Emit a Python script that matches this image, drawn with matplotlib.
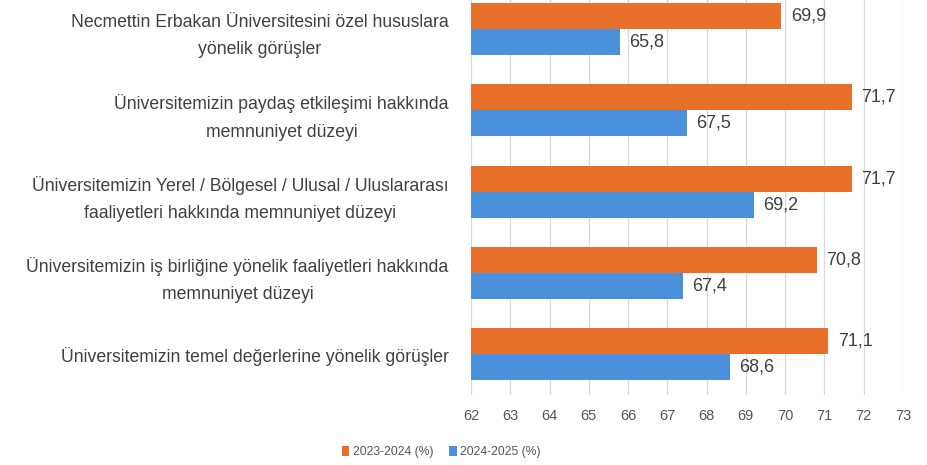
import numpy as np
import matplotlib
matplotlib.use("Agg")
import matplotlib.pyplot as plt

plt.rcParams['font.family'] = ['Liberation Sans', 'DejaVu Sans']

# Datos (de arriba hacia abajo en el gráfico)
categorias = [
    "Necmettin Erbakan Üniversitesini özel hususlara\nyönelik görüşler",
    "Üniversitemizin paydaş etkileşimi hakkında\nmemnuniyet düzeyi",
    "Üniversitemizin Yerel / Bölgesel / Ulusal / Uluslararası\nfaaliyetleri hakkında memnuniyet düzeyi",
    "Üniversitemizin iş birliğine yönelik faaliyetleri hakkında\nmemnuniyet düzeyi",
    "Üniversitemizin temel değerlerine yönelik görüşler",
]
serie_2023 = [69.9, 71.7, 71.7, 70.8, 71.1]
serie_2024 = [65.8, 67.5, 69.2, 67.4, 68.6]
etiquetas = ["2023-2024 (%)", "2024-2025 (%)"]

NARANJA = '#E9702B'
AZUL = '#4A90DA'
GRIS = '#404040'
X0 = 62

fig = plt.figure(figsize=(9.28, 4.65), dpi=100)
ax = fig.add_axes([0.5075, 0.1505, 0.4655, 0.8495])

n = len(categorias)
y = np.arange(n)[::-1]
h = 0.32

b1 = ax.barh(y + h / 2, np.array(serie_2023) - X0, h, left=X0, color=NARANJA, label=etiquetas[0], zorder=3)
b2 = ax.barh(y - h / 2, np.array(serie_2024) - X0, h, left=X0, color=AZUL, label=etiquetas[1], zorder=3)

for barras, valores in ((b1, serie_2023), (b2, serie_2024)):
    for b, v in zip(barras, valores):
        ax.text(v + 0.24, b.get_y() + b.get_height() / 2, f"{v:.1f}".replace('.', ','),
                va='center', ha='left', fontsize=13, color=GRIS)

ax.set_xlim(62, 73)
ax.set_ylim(-0.5, 4.357)
ax.set_xticks(range(62, 74))
ax.set_yticks(y)
ax.set_yticklabels(categorias, fontsize=12.7, color=GRIS, linespacing=1.78,
                   multialignment='center')
ax.tick_params(axis='y', length=0, pad=16)
ax.tick_params(axis='x', length=0, pad=10, labelsize=10.5, labelcolor='#555555')
ax.grid(axis='x', color='#D9D9D9', linewidth=0.9, zorder=0)
for s in ax.spines.values():
    s.set_visible(False)

fig.legend(handles=[b1, b2], labels=etiquetas, loc='center left',
           bbox_to_anchor=(0.357, 0.028), ncol=2, frameon=False, fontsize=8.7,
           handlelength=0.6, handleheight=0.9, handletextpad=0.3, columnspacing=1.3,
           labelcolor='#555555')

fig.savefig('out.png', dpi=100)
